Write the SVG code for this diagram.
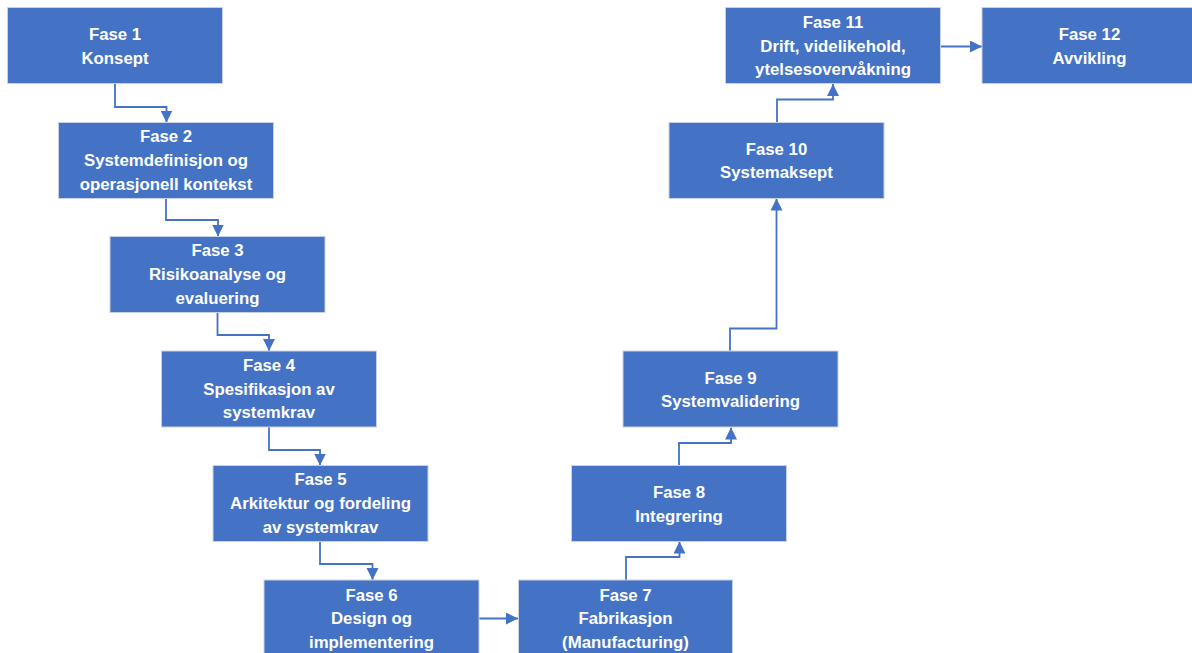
<svg xmlns="http://www.w3.org/2000/svg" width="1192" height="653" viewBox="0 0 1192 653">
  <style>
    .box { fill: #4472C4; stroke: #c9d2e3; stroke-width: 1; }
    .lbl { font-family: "Liberation Sans", Arial, sans-serif; font-weight: bold; font-size: 16.8px; fill: #ffffff; text-anchor: middle; }
    .conn { fill: none; stroke: #4472C4; stroke-width: 1.8; marker-end: url(#arrow); }
  </style>
  <defs>
    <marker id="arrow" markerUnits="userSpaceOnUse" markerWidth="13" markerHeight="13" refX="12" refY="6" orient="auto">
      <path d="M0,0 L12,6 L0,12 z" fill="#4472C4"/>
    </marker>
  </defs>
  <rect width="1192" height="653" fill="#ffffff"/>

  <g id="connectors">
    <path class="conn" d="M115,83.5 V107 H166.5 V122.5"/>
    <path class="conn" d="M166,198.5 V220 H218 V236.5"/>
    <path class="conn" d="M217.5,312.5 V335 H269 V351"/>
    <path class="conn" d="M269,427 V450 H320 V465.5"/>
    <path class="conn" d="M320,541.5 V564 H372.5 V580"/>
    <path class="conn" d="M479,618.5 H518"/>
    <path class="conn" d="M626,580 V557 H679.5 V541.5"/>
    <path class="conn" d="M679,465.5 V443 H731 V427.5"/>
    <path class="conn" d="M730,351 V328.5 H776.5 V198.5"/>
    <path class="conn" d="M777,122.5 V99.5 H833 V84"/>
    <path class="conn" d="M940.5,46.5 H982"/>
  </g>

  <g id="fase1">
    <rect class="box" x="7.5" y="7.5" width="215" height="76"/>
    <text class="lbl" x="115" y="40">Fase 1</text>
    <text class="lbl" x="115" y="63.5">Konsept</text>
  </g>
  <g id="fase2">
    <rect class="box" x="58.5" y="122.5" width="215" height="76"/>
    <text class="lbl" x="166" y="142">Fase 2</text>
    <text class="lbl" x="166" y="166">Systemdefinisjon og</text>
    <text class="lbl" x="166" y="189.5">operasjonell kontekst</text>
  </g>
  <g id="fase3">
    <rect class="box" x="110" y="236.5" width="215" height="76"/>
    <text class="lbl" x="217.5" y="256">Fase 3</text>
    <text class="lbl" x="217.5" y="280">Risikoanalyse og</text>
    <text class="lbl" x="217.5" y="303.5">evaluering</text>
  </g>
  <g id="fase4">
    <rect class="box" x="161.5" y="351" width="215" height="76"/>
    <text class="lbl" x="269" y="370.5">Fase 4</text>
    <text class="lbl" x="269" y="394.5">Spesifikasjon av</text>
    <text class="lbl" x="269" y="418">systemkrav</text>
  </g>
  <g id="fase5">
    <rect class="box" x="213" y="465.5" width="215" height="76"/>
    <text class="lbl" x="320.5" y="485">Fase 5</text>
    <text class="lbl" x="320.5" y="509">Arkitektur og fordeling</text>
    <text class="lbl" x="320.5" y="532.5">av systemkrav</text>
  </g>
  <g id="fase6">
    <rect class="box" x="264" y="580" width="215" height="76"/>
    <text class="lbl" x="371.5" y="600.5">Fase 6</text>
    <text class="lbl" x="371.5" y="624">Design og</text>
    <text class="lbl" x="371.5" y="647.5">implementering</text>
  </g>
  <g id="fase7">
    <rect class="box" x="518.5" y="580" width="214" height="76"/>
    <text class="lbl" x="625.5" y="600.5">Fase 7</text>
    <text class="lbl" x="625.5" y="624">Fabrikasjon</text>
    <text class="lbl" x="625.5" y="647.5">(Manufacturing)</text>
  </g>
  <g id="fase8">
    <rect class="box" x="571.5" y="465.5" width="215" height="76"/>
    <text class="lbl" x="679" y="498">Fase 8</text>
    <text class="lbl" x="679" y="521.5">Integrering</text>
  </g>
  <g id="fase9">
    <rect class="box" x="623" y="351" width="215" height="76"/>
    <text class="lbl" x="730.5" y="383.5">Fase 9</text>
    <text class="lbl" x="730.5" y="407">Systemvalidering</text>
  </g>
  <g id="fase10">
    <rect class="box" x="669" y="122.5" width="215" height="76"/>
    <text class="lbl" x="776.5" y="154.5">Fase 10</text>
    <text class="lbl" x="776.5" y="178">Systemaksept</text>
  </g>
  <g id="fase11">
    <rect class="box" x="725.5" y="7.5" width="215" height="76"/>
    <text class="lbl" x="833" y="27.5">Fase 11</text>
    <text class="lbl" x="833" y="51.5">Drift, videlikehold,</text>
    <text class="lbl" x="833" y="75">ytelsesovervåkning</text>
  </g>
  <g id="fase12">
    <rect class="box" x="982" y="7.5" width="215" height="76"/>
    <text class="lbl" x="1089.5" y="40">Fase 12</text>
    <text class="lbl" x="1089.5" y="63.5">Avvikling</text>
  </g>
</svg>
